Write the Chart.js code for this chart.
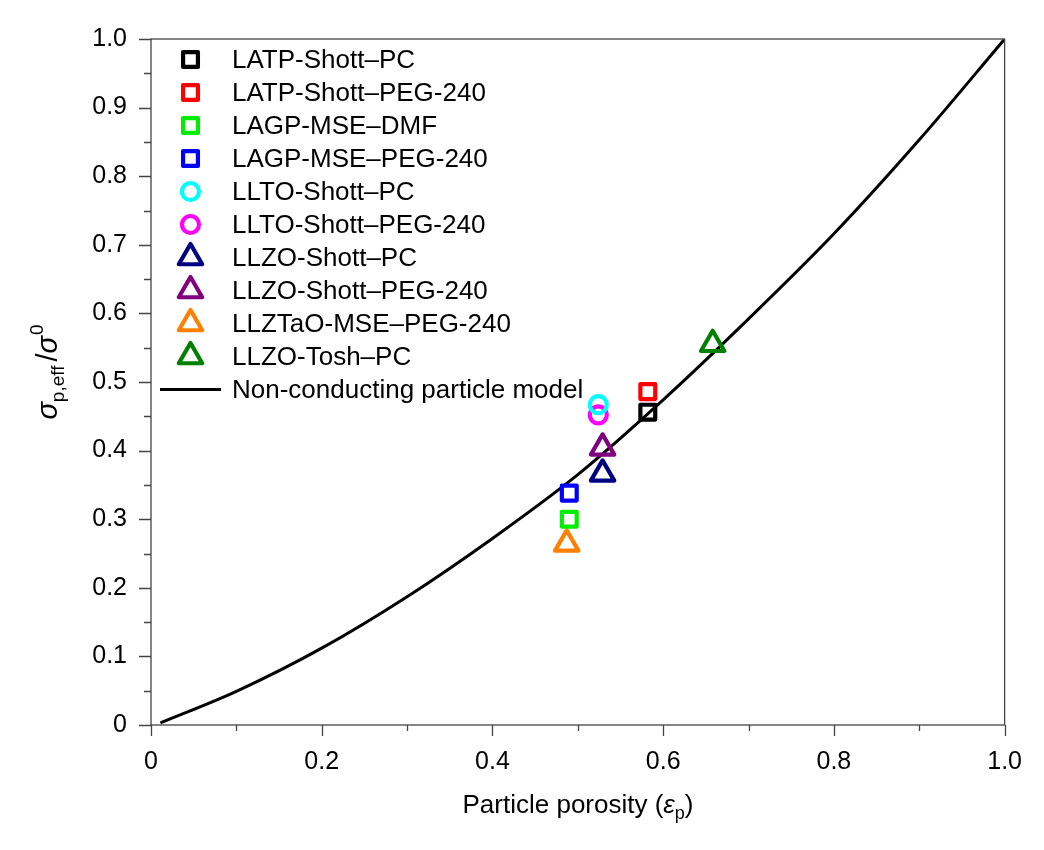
<!DOCTYPE html>
<html>
<head>
<meta charset="utf-8">
<script src="https://cdn.jsdelivr.net/npm/chart.js@4.4.1/dist/chart.umd.min.js"></script>
<style>
  html, body { margin: 0; padding: 0; background: #fff; }
</style>
</head>
<body>
<canvas id="chart" width="1044" height="850"></canvas>
<script>
// model curve
const modelX = [0.011, 0.1, 0.2, 0.3, 0.4, 0.5, 0.6, 0.7, 0.8, 0.9, 1.0];
const modelY = [0.003, 0.049, 0.112, 0.187, 0.272, 0.365, 0.474, 0.592, 0.716, 0.853, 1.0];

// measured points
const seriesNames = ['LATP-Shott\u2013PC', 'LATP-Shott\u2013PEG-240', 'LAGP-MSE\u2013DMF', 'LAGP-MSE\u2013PEG-240',
  'LLTO-Shott\u2013PC', 'LLTO-Shott\u2013PEG-240', 'LLZO-Shott\u2013PC', 'LLZO-Shott\u2013PEG-240',
  'LLZTaO-MSE\u2013PEG-240', 'LLZO-Tosh\u2013PC'];
const seriesX = [0.582, 0.582, 0.49, 0.49, 0.524, 0.524, 0.529, 0.529, 0.487, 0.658];
const seriesY = [0.456, 0.486, 0.300, 0.338, 0.467, 0.452, 0.366, 0.404, 0.264, 0.555];
const seriesColors = ['#000000', '#ff0000', '#00ee00', '#0000ff', '#00ffff', '#ff00ff', '#000080', '#800080', '#ff8000', '#008000'];
const seriesShapes = ['rect', 'rect', 'rect', 'rect', 'circle', 'circle', 'triangle', 'triangle', 'triangle', 'triangle'];
const modelName = 'Non-conducting particle model';

const xTicks = [0, 0.1, 0.2, 0.3, 0.4, 0.5, 0.6, 0.7, 0.8, 0.9, 1.0];
const yTicks = [0, 0.05, 0.1, 0.15, 0.2, 0.25, 0.3, 0.35, 0.4, 0.45, 0.5, 0.55, 0.6, 0.65, 0.7, 0.75, 0.8, 0.85, 0.9, 0.95, 1.0];

const FONT = '"Liberation Sans", Arial, Helvetica, sans-serif';
const radii = { rect: 10.5, circle: 8.5, triangle: 13.5 };
const markerStroke = 4.2;

function drawMarker(ctx, shape, color, x, y) {
  const r = radii[shape];
  ctx.save();
  ctx.strokeStyle = color;
  ctx.lineWidth = markerStroke;
  ctx.lineJoin = 'round';
  ctx.beginPath();
  if (shape === 'rect') {
    const s = r * Math.SQRT1_2;
    ctx.rect(x - s, y - s, 2 * s, 2 * s);
  } else if (shape === 'circle') {
    ctx.arc(x, y, r, 0, Math.PI * 2);
  } else {
    let a = 0;
    ctx.moveTo(x + Math.sin(a) * r, y - Math.cos(a) * r);
    a += Math.PI * 2 / 3;
    ctx.lineTo(x + Math.sin(a) * r, y - Math.cos(a) * r);
    a += Math.PI * 2 / 3;
    ctx.lineTo(x + Math.sin(a) * r, y - Math.cos(a) * r);
    ctx.closePath();
  }
  ctx.stroke();
  ctx.restore();
}

function drawParts(ctx, parts, x, y) {
  let total = 0;
  parts.forEach(p => { ctx.font = p.font; p.w = ctx.measureText(p.t).width; total += p.w + (p.gap || 0); });
  let cx = x - total / 2;
  parts.forEach(p => {
    ctx.font = p.font;
    ctx.fillText(p.t, cx, y + (p.dy || 0));
    cx += p.w + (p.gap || 0);
  });
}

const decorPlugin = {
  id: 'decor',
  beforeDatasetsDraw(chart) {
    const { ctx } = chart;
    ctx.save();
    ctx.lineJoin = 'round';
  },
  afterDatasetsDraw(chart) {
    const { ctx, chartArea: a, scales } = chart;
    ctx.restore();
    ctx.save();
    // frame
    ctx.strokeStyle = '#444';
    ctx.lineWidth = 1.3;
    ctx.strokeRect(a.left, a.top, a.right - a.left, a.bottom - a.top);
    // ticks
    ctx.beginPath();
    xTicks.forEach((v, i) => {
      const px = Math.round(scales.x.getPixelForValue(v)) + 0.5;
      ctx.moveTo(px, a.bottom);
      ctx.lineTo(px, a.bottom + (i % 2 === 0 ? 11 : 6));
    });
    yTicks.forEach((v, i) => {
      const py = Math.round(scales.y.getPixelForValue(v)) + 0.5;
      ctx.moveTo(a.left, py);
      ctx.lineTo(a.left - (i % 2 === 0 ? 12 : 7), py);
    });
    ctx.stroke();

    // legend inside the plot
    ctx.fillStyle = '#000';
    ctx.textBaseline = 'middle';
    ctx.font = '26px ' + FONT;
    const lx = 190.5, tx = 232, ly = 59.5, step = 33;
    seriesNames.forEach((name, i) => {
      drawMarker(ctx, seriesShapes[i], seriesColors[i], lx, ly + i * step);
      ctx.fillText(name, tx, ly + i * step + 1);
    });
    const yl = ly + seriesNames.length * step;
    ctx.strokeStyle = '#000';
    ctx.lineWidth = 3;
    ctx.beginPath();
    ctx.moveTo(160, yl);
    ctx.lineTo(221, yl);
    ctx.stroke();
    ctx.fillText(modelName, tx, yl + 1);

    // axis titles
    ctx.textBaseline = 'alphabetic';
    drawParts(ctx, [
      { t: 'Particle porosity (', font: '26px ' + FONT },
      { t: '\u03b5', font: 'italic 26px ' + FONT },
      { t: 'p', font: '18px ' + FONT, dy: 6 },
      { t: ')', font: '26px ' + FONT }
    ], 578, 813);

    ctx.translate(57, 372);
    ctx.rotate(-Math.PI / 2);
    drawParts(ctx, [
      { t: '\u03c3', font: 'italic 29px ' + FONT },
      { t: 'p,eff', font: '19px ' + FONT, dy: 7, gap: 4 },
      { t: '/', font: '29px ' + FONT },
      { t: '\u03c3', font: 'italic 29px ' + FONT, gap: 1 },
      { t: '0', font: '19px ' + FONT, dy: -14 }
    ], 0, 0);
    ctx.restore();
  }
};

const datasets = seriesNames.map((name, i) => ({
  label: name,
  data: [{ x: seriesX[i], y: seriesY[i] }],
  pointStyle: seriesShapes[i],
  pointRadius: radii[seriesShapes[i]],
  pointBorderWidth: markerStroke,
  pointBorderColor: seriesColors[i],
  pointBackgroundColor: 'rgba(0,0,0,0)',
  showLine: false
}));
datasets.push({
  label: modelName,
  data: modelX.map((x, i) => ({ x: x, y: modelY[i] })),
  showLine: true,
  borderColor: '#000',
  borderWidth: 3,
  pointRadius: 0,
  cubicInterpolationMode: 'monotone'
});

new Chart(document.getElementById('chart').getContext('2d'), {
  type: 'scatter',
  data: { datasets: datasets },
  options: {
    responsive: false,
    animation: false,
    layout: { padding: { top: 38, right: 38, left: 0, bottom: 0 } },
    plugins: { legend: { display: false }, tooltip: { enabled: false } },
    scales: {
      x: {
        type: 'linear', min: 0, max: 1,
        afterFit: s => { s.height = 125; },
        afterBuildTicks: s => { s.ticks = xTicks.map(v => ({ value: v })); },
        grid: { display: true, drawOnChartArea: false, drawTicks: false },
        border: { display: false },
        ticks: {
          autoSkip: false, maxRotation: 0, padding: 22, color: '#000',
          font: { family: FONT, size: 25 },
          callback: v => {
            const k = Math.round(v * 10);
            if (k % 2 !== 0) return '';
            return k === 0 ? '0' : (k / 10).toFixed(1);
          }
        }
      },
      y: {
        type: 'linear', min: 0, max: 1,
        afterFit: s => { s.width = 151; },
        afterBuildTicks: s => { s.ticks = yTicks.map(v => ({ value: v })); },
        grid: { display: true, drawOnChartArea: false, drawTicks: false },
        border: { display: false },
        ticks: {
          autoSkip: false, padding: 24, color: '#000',
          font: { family: FONT, size: 25 },
          callback: v => {
            const k = Math.round(v * 20);
            if (k % 2 !== 0) return '';
            return k === 0 ? '0' : (k / 20).toFixed(1);
          }
        }
      }
    }
  },
  plugins: [decorPlugin]
});
</script>
</body>
</html>
